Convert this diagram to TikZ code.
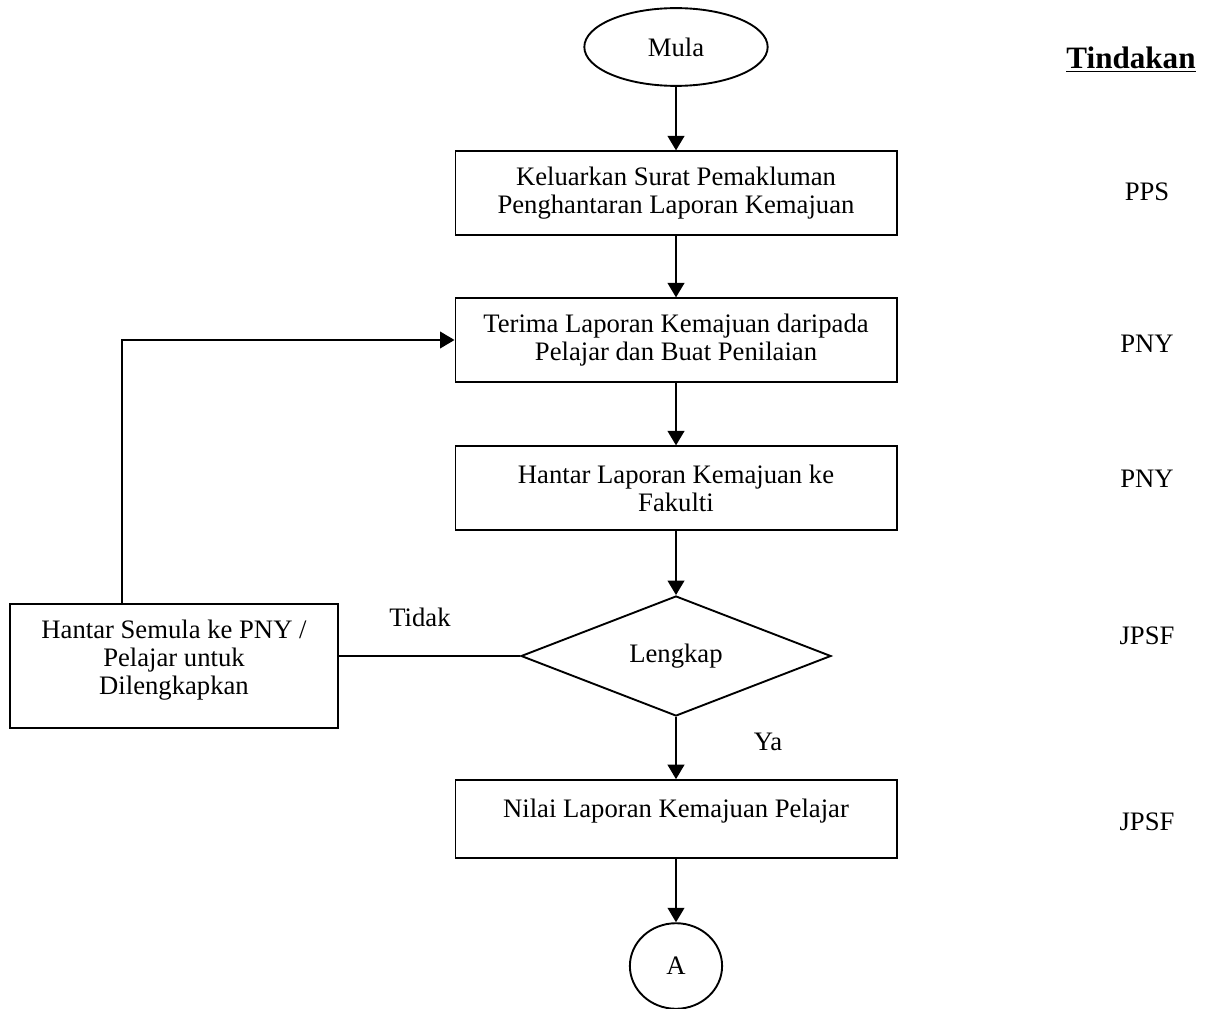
\documentclass[tikz,border=0pt]{standalone}
\usepackage{fontspec}
\setmainfont{Liberation Serif}
\usetikzlibrary{arrows.meta,shapes.geometric}
\tikzset{
  box/.style={draw=black, line width=0.85pt, align=center, inner sep=2pt, minimum width=198.5pt, minimum height=37.5pt, font=\fontsize{12}{12.6}\selectfont},
  terminal/.style={draw=black, line width=0.85pt, ellipse, inner sep=0pt, minimum width=82.5pt, minimum height=35pt, font=\fontsize{12}{12.6}\selectfont},
  decision/.style={draw=black, line width=0.85pt, diamond, aspect=2.6, inner sep=0pt, minimum width=139.5pt, minimum height=54pt, font=\fontsize{12}{12.6}\selectfont},
  arrow/.style={-{Triangle[length=6.5pt,width=7.5pt]}, line width=0.85pt},
  plain/.style={line width=0.85pt},
  lbl/.style={font=\fontsize{12}{12.6}\selectfont, inner sep=0pt}
}
\begin{document}
\begin{tikzpicture}[x=0.45pt, y=-0.45pt]
\useasboundingbox (0,0) rectangle (1206,1009);
% main flow
\node[terminal] (mula) at (676,47) {Mula};
\node[box] (notice) at (676,193) {Keluarkan Surat Pemakluman\\Penghantaran Laporan Kemajuan};
\node[box] (assess) at (676,340) {Terima Laporan Kemajuan daripada\\Pelajar dan Buat Penilaian};
\node[box] (send) at (676,488) {Hantar Laporan Kemajuan ke\\Fakulti};
\node[decision] (complete) at (676,656) {Lengkap};
\node[box, minimum height=0pt, inner ysep=0pt, text height=17pt, text depth=18pt] (grade) at (676,819) {Nilai Laporan Kemajuan Pelajar};
\node[terminal, minimum width=41.5pt, minimum height=38.5pt] (conn) at (676,966) {A};
% return branch
\node[box, minimum width=147.5pt, minimum height=56pt, inner ysep=0pt, text depth=7.5pt] (back) at (174,666) {Hantar Semula ke PNY /\\Pelajar untuk\\Dilengkapkan};
\coordinate (loop) at (122,340);
\draw[arrow] (mula) -- (notice);
\draw[arrow] (notice) -- (assess);
\draw[arrow] (assess) -- (send);
\draw[arrow] (send) -- (complete);
\draw[arrow] (complete) -- (grade);
\draw[arrow] (grade) -- (conn);
\draw[plain] (complete.west) -- (complete.west -| back.east);
\draw[arrow] (back.north -| loop) |- (assess.west);
\node[lbl] (no) at (420,617) {Tidak};
\node[lbl] (yes) at (768,742) {Ya};
% actors
\node[lbl, font=\fontsize{14}{15}\selectfont\bfseries] (head) at (1131,60) {\underline{Tindakan}};
\node[lbl] (act1) at (1147,192) {PPS};
\node[lbl] (act2) at (1147,344) {PNY};
\node[lbl] (act3) at (1147,479) {PNY};
\node[lbl] (act4) at (1147,636) {JPSF};
\node[lbl] (act5) at (1147,822) {JPSF};
\end{tikzpicture}
\end{document}
